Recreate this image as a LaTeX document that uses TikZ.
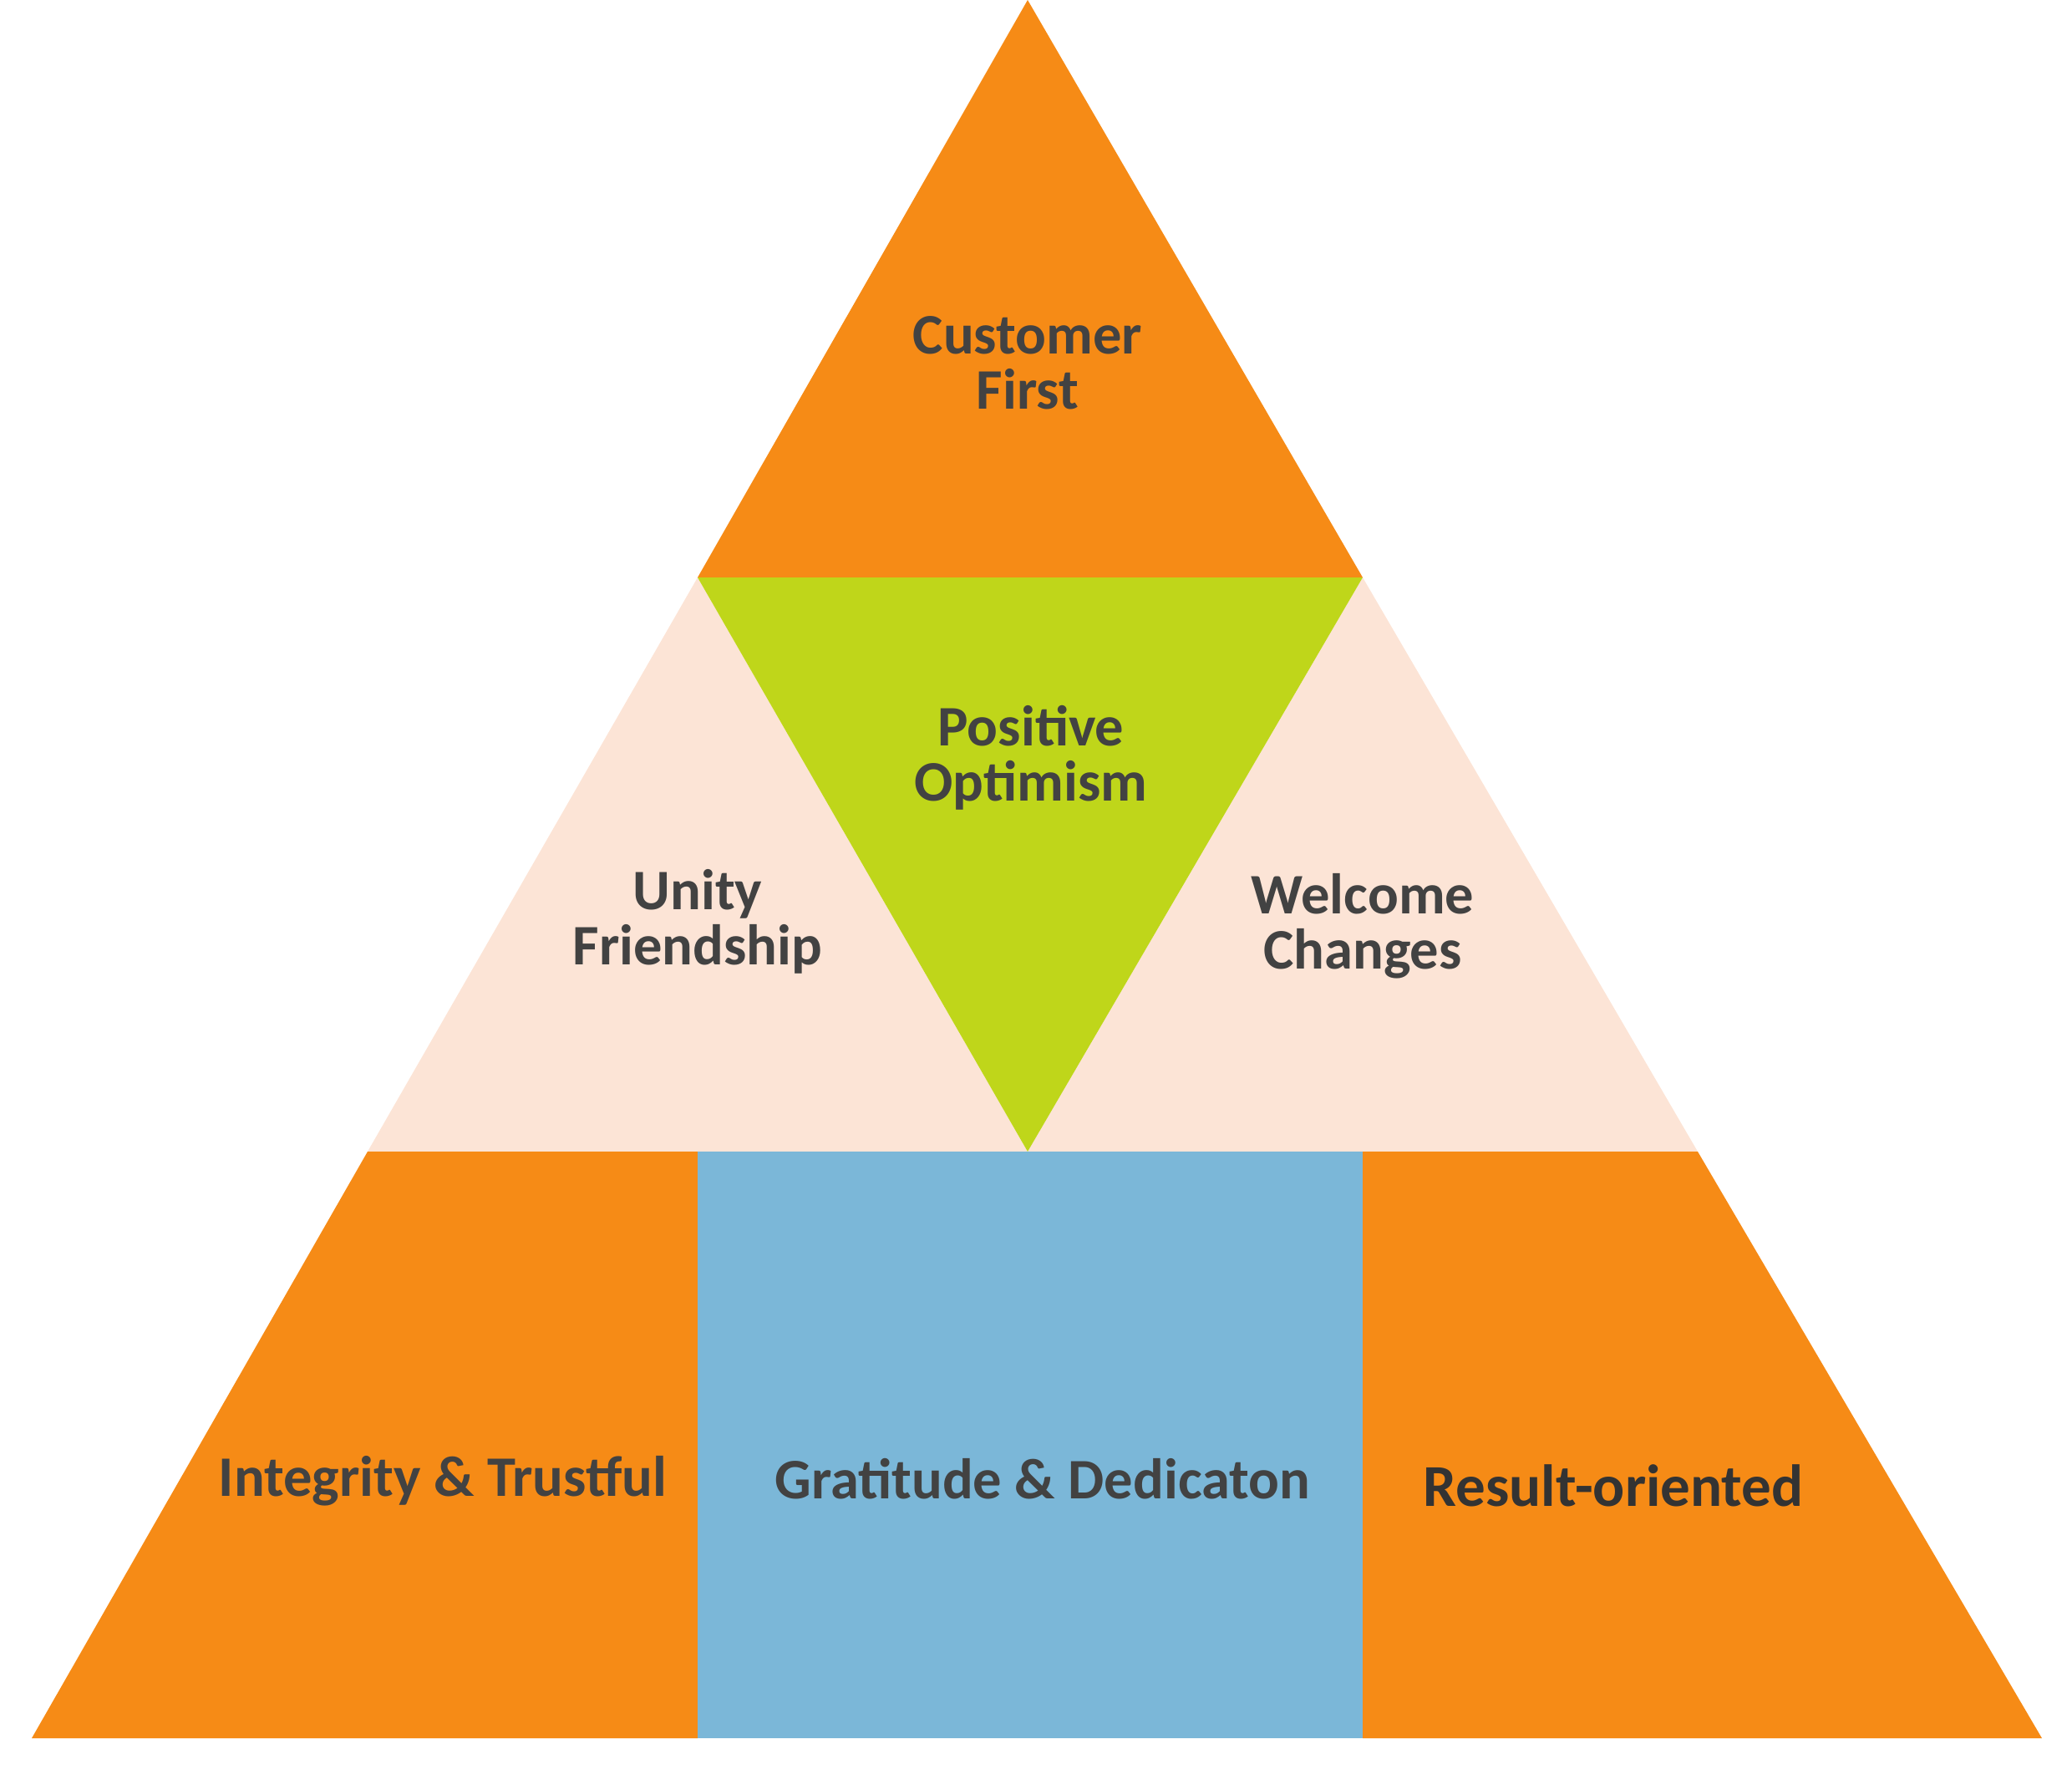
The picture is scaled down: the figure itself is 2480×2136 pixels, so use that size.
\documentclass[tikz,border=0pt]{standalone}
\usepackage{fontspec}
\setmainfont{Carlito}
\usepackage{tikz}
\usetikzlibrary{calc}

\definecolor{valorange}{RGB}{246,139,22}
\definecolor{valgreen}{RGB}{191,214,26}
\definecolor{valpeach}{RGB}{252,228,214}
\definecolor{valblue}{RGB}{123,183,216}
\definecolor{valtext}{RGB}{66,66,66}

\tikzset{
  value/.style={text=valtext, align=center, inner sep=0pt,
    font=\bfseries\fontsize{19.5}{18.8}\selectfont},
}

\begin{document}
\begin{tikzpicture}[x=0.01cm, y=-0.01cm]
  \useasboundingbox (0,0) rectangle (2480,2136);

  \def\ya{691}   % first band
  \def\yb{1378}  % second band
  \def\yc{2080}  % base line

  % Corner points
  \coordinate (apex) at (1230,0);
  \coordinate (l1) at (835,\ya);  \coordinate (r1) at (1631,\ya);
  \coordinate (l2) at (440,\yb);  \coordinate (r2) at (2032,\yb);
  \coordinate (l3) at (38,\yc);   \coordinate (r3) at (2444,\yc);
  \coordinate (mid) at (1230,\yb);

  % Top triangle
  \fill[valorange] (apex) -- (r1) -- (l1) -- cycle;

  % Middle band
  \fill[valpeach] (l1) -- (mid) -- (l2) -- cycle;
  \fill[valpeach] (r1) -- (r2) -- (mid) -- cycle;
  \fill[valgreen] (l1) -- (r1) -- (mid) -- cycle;

  % Bottom band
  \fill[valorange] (l2) -- (835,\yb) -- (835,\yc) -- (l3) -- cycle;
  \fill[valblue] (835,\yb) rectangle (1631,\yc);
  \fill[valorange] (1631,\yb) -- (r2) -- (r3) -- (1631,\yc) -- cycle;

  % Labels
  \node[value] (cust) at (1230,434) {Customer\\First};
  \node[value] (posi) at (1234,907) {Positive\\Optimism};
  \node[value] (unit) at (835,1103) {Unity\\Friendship};
  \node[value] (welc) at (1631,1108) {Welcome\\Changes};
  \node[value] (inte) at (530,1772) {Integrity \& Trustful};
  \node[value] (grat) at (1248,1770) {Gratitude \& Dedicaton};
  \node[value, text=black!80, font=\bfseries\fontsize{20.2}{20}\selectfont]
    (resu) at (1931,1778) {Result-oriented};

\end{tikzpicture}
\end{document}
